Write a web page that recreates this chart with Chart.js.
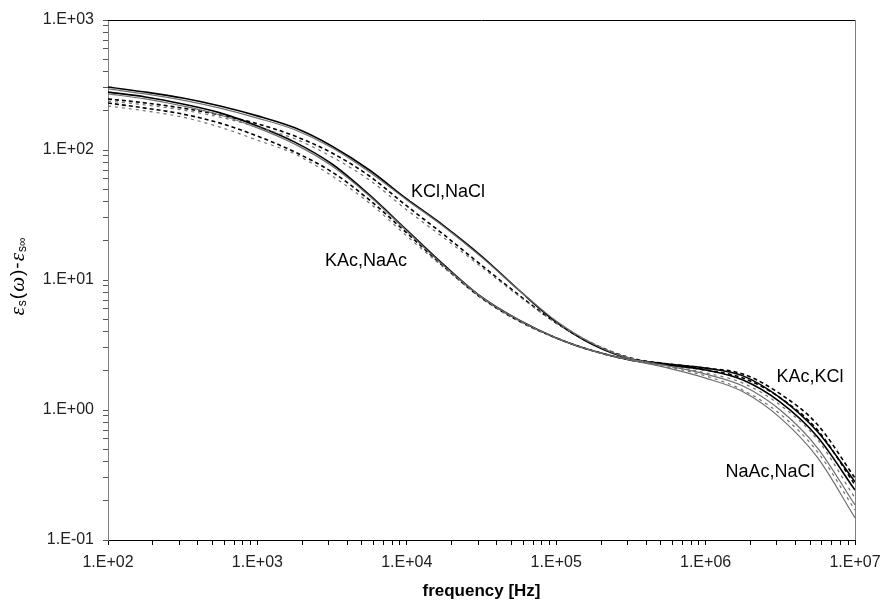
<!DOCTYPE html>
<html>
<head>
<meta charset="utf-8">
<script src="https://cdn.jsdelivr.net/npm/chart.js@4.4.1/dist/chart.umd.min.js"></script>
<style>
  html, body { margin: 0; padding: 0; background: #fff; }
</style>
</head>
<body>
<canvas id="spectraChart" width="881" height="603"></canvas>
<script>
// frequency points (Hz), quarter decades
const freqs = [100, 178, 316, 562, 1000, 1780, 3160, 5620, 10000, 17800, 31600, 56200,
  100000, 178000, 316000, 562000, 1000000, 1780000, 3160000, 5620000, 10000000];

// eps_s(w) - eps_s_inf
const kclSolid   = [305, 279, 251, 218, 183, 148, 107, 70.2, 42.0, 26.0, 15.3, 8.38, 4.75, 3.16, 2.47, 2.26, 2.10, 1.83, 1.24, 0.68, 0.28];
const naclSolid  = [295, 270, 242, 210, 176, 143, 104, 67.7, 41.3, 25.6, 15.0, 8.38, 4.84, 3.22, 2.47, 2.18, 1.89, 1.53, 1.00, 0.51, 0.186];
const kclDashed  = [247, 230, 210, 186, 159, 128, 94.8, 63.1, 37.1, 22.2, 13.0, 7.67, 4.67, 3.22, 2.51, 2.26, 2.10, 1.89, 1.33, 0.77, 0.30];
const naclDashed = [238, 222, 203, 179, 150, 122, 88.4, 58.8, 34.6, 21.0, 12.6, 7.53, 4.67, 3.22, 2.51, 2.18, 1.93, 1.61, 1.09, 0.59, 0.21];
const kacSolid   = [279, 256, 226, 193, 153, 115, 78.0, 45.1, 24.2, 13.0, 7.40, 4.92, 3.58, 2.84, 2.42, 2.22, 2.03, 1.70, 1.15, 0.62, 0.242];
const naacSolid  = [270, 247, 218, 186, 148, 111, 75.3, 44.3, 23.8, 12.8, 7.40, 4.92, 3.58, 2.84, 2.42, 2.10, 1.76, 1.38, 0.87, 0.43, 0.148];
const kacDashed  = [230, 210, 189, 161, 128, 96.5, 67.7, 41.3, 23.0, 12.6, 7.27, 4.84, 3.58, 2.84, 2.42, 2.22, 2.03, 1.76, 1.24, 0.70, 0.265];
const naacDashed = [218, 200, 179, 150, 119, 93.2, 63.1, 39.1, 21.8, 12.4, 7.27, 4.84, 3.58, 2.84, 2.42, 2.14, 1.83, 1.42, 0.93, 0.475, 0.17];

// curve labels anchored in data units [freq, value]
const curveLabels = [
  ['KCl,NaCl', 18900, 47.5],
  ['KAc,NaAc', 5330, 14.0],
  ['KAc,KCl', 5.0e6, 1.79],
  ['NaAc,NaCl', 2.7e6, 0.334]
];

const BLACK = '#000000';
const GREY = '#6e6e6e';

function pts(vals) {
  return vals.map((v, i) => ({ x: freqs[i], y: v }));
}

function line(label, vals, color, dashed) {
  return {
    label: label,
    data: pts(vals),
    borderColor: color,
    borderWidth: color === BLACK ? 1.6 : 1.2,
    borderDash: dashed ? (color === BLACK ? [4, 3] : [3, 4]) : [],
    pointRadius: 0,
    fill: false,
    cubicInterpolationMode: 'monotone'
  };
}

function isDecade(v) {
  const l = Math.log10(v);
  return Math.abs(l - Math.round(l)) < 1e-6;
}

function sciLabel(v) {
  const e = Math.round(Math.log10(v));
  return '1.E' + (e < 0 ? '-' : '+') + String(Math.abs(e)).padStart(2, '0');
}

function logTicks(scale, lo, hi) {
  const t = [];
  for (let d = lo; d < hi; d++) {
    for (let m = 1; m <= 9; m++) t.push({ value: m * Math.pow(10, d) });
  }
  t.push({ value: Math.pow(10, hi) });
  scale.ticks = t;
}

// top and right edges of the plot box
const frame = {
  id: 'frame',
  afterDraw(chart) {
    const { ctx, chartArea: a } = chart;
    ctx.save();
    ctx.lineWidth = 1;
    ctx.strokeStyle = BLACK;
    ctx.beginPath();
    ctx.moveTo(a.left, a.top + 0.5);
    ctx.lineTo(a.right, a.top + 0.5);
    ctx.stroke();
    ctx.strokeStyle = '#808080';
    ctx.beginPath();
    ctx.moveTo(a.right + 0.5, a.top);
    ctx.lineTo(a.right + 0.5, a.bottom);
    ctx.stroke();
    ctx.restore();
  }
};

const labelsPlugin = {
  id: 'curveLabels',
  afterDatasetsDraw(chart) {
    const { ctx, scales } = chart;
    ctx.save();
    ctx.font = '18px "Liberation Sans", Arial, sans-serif';
    ctx.textAlign = 'center';
    ctx.textBaseline = 'middle';
    curveLabels.forEach(([txt, f, v]) => {
      const px = scales.x.getPixelForValue(f);
      const py = scales.y.getPixelForValue(v);
      ctx.fillStyle = '#fff';
      const w = ctx.measureText(txt).width;
      ctx.fillRect(px - w / 2 - 1, py - 9, w + 2, 18);
      ctx.fillStyle = BLACK;
      ctx.fillText(txt, px, py);
    });
    ctx.restore();
  }
};

// rotated y title with subscripts
const yTitle = {
  id: 'yTitle',
  afterDraw(chart) {
    const ctx = chart.ctx;
    const a = chart.chartArea;
    const greek = 'italic 21px "Liberation Serif", serif';
    const plain = '19px "Liberation Sans", Arial, sans-serif';
    const sub = '12px "Liberation Sans", Arial, sans-serif';
    const parts = [
      ['\u03b5', greek, 0], ['s', sub, 5], ['(', plain, 0], ['\u03c9', greek, 0],
      [')', plain, 0], ['-', plain, 0], ['\u03b5', greek, 0], ['s\u221e', sub, 5]
    ];
    ctx.save();
    let total = 0;
    parts.forEach(p => { ctx.font = p[1]; total += ctx.measureText(p[0]).width + 1; });
    ctx.translate(18, (a.top + a.bottom) / 2 - 4);
    ctx.rotate(-Math.PI / 2);
    ctx.fillStyle = BLACK;
    ctx.textBaseline = 'middle';
    let x = -total / 2;
    parts.forEach(p => {
      ctx.font = p[1];
      ctx.fillText(p[0], x, p[2]);
      x += ctx.measureText(p[0]).width + 1;
    });
    ctx.restore();
  }
};

const tickFont = { family: '"Liberation Sans", Arial, sans-serif', size: 16 };

new Chart(document.getElementById('spectraChart'), {
  type: 'line',
  data: {
    datasets: [
      line('NaCl', naclSolid, GREY, false),
      line('NaCl exp', naclDashed, GREY, true),
      line('NaAc', naacSolid, GREY, false),
      line('NaAc exp', naacDashed, GREY, true),
      line('KCl', kclSolid, BLACK, false),
      line('KCl exp', kclDashed, BLACK, true),
      line('KAc', kacSolid, BLACK, false),
      line('KAc exp', kacDashed, BLACK, true)
    ]
  },
  options: {
    responsive: false,
    animation: false,
    layout: { padding: { top: 20, right: 26, bottom: 0, left: 0 } },
    plugins: {
      legend: { display: false },
      tooltip: { enabled: false }
    },
    scales: {
      x: {
        type: 'logarithmic',
        min: 100,
        max: 1e7,
        afterBuildTicks: s => logTicks(s, 2, 7),
        afterFit: s => { s.height = 63; s.paddingLeft = 0; s.paddingRight = 0; },
        grid: { drawOnChartArea: false, drawTicks: true, tickLength: 5, color: BLACK },
        border: { color: BLACK, width: 1 },
        ticks: {
          autoSkip: false,
          maxRotation: 0,
          padding: 8,
          color: '#222',
          font: tickFont,
          callback: v => isDecade(v) ? sciLabel(v) : ''
        },
        title: {
          display: true,
          text: 'frequency [Hz]',
          color: BLACK,
          font: { family: '"Liberation Sans", Arial, sans-serif', size: 17, weight: 'bold' },
          padding: { top: 0, bottom: 1 }
        }
      },
      y: {
        type: 'logarithmic',
        min: 0.1,
        max: 1000,
        afterBuildTicks: s => logTicks(s, -1, 3),
        afterFit: s => { s.width = 108; s.paddingTop = 0; s.paddingBottom = 0; },
        grid: { drawOnChartArea: false, drawTicks: true, tickLength: 5, color: '#555' },
        border: { color: '#808080', width: 1 },
        ticks: {
          autoSkip: false,
          padding: 9,
          color: '#222',
          font: tickFont,
          callback: v => isDecade(v) ? sciLabel(v) : ''
        }
      }
    }
  },
  plugins: [frame, labelsPlugin, yTitle]
});
</script>
</body>
</html>
